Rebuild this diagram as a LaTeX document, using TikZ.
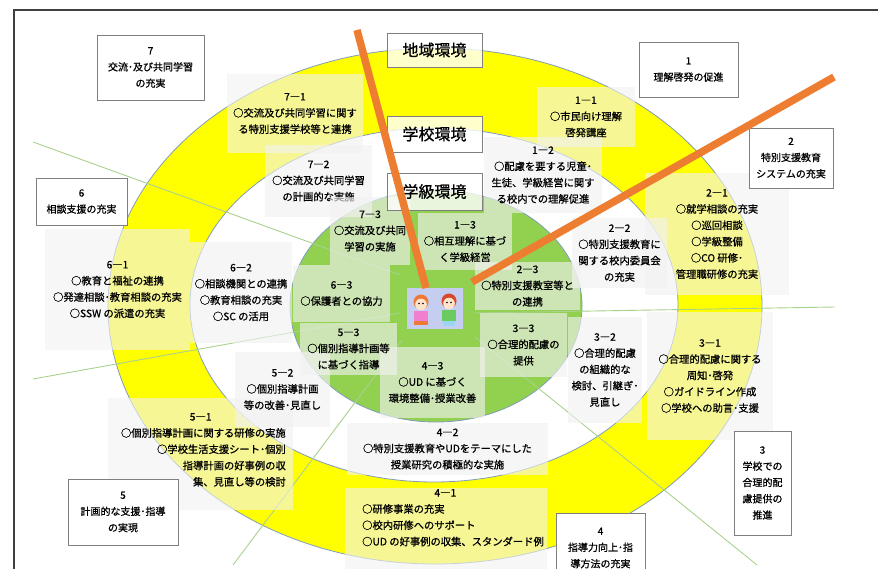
\documentclass[tikz,border=0pt]{standalone}
\usepackage{fontspec}
\newfontfamily\jp{Noto Sans CJK JP}[FakeBold=0.8]
\usetikzlibrary{positioning}
\definecolor{ringyellow}{HTML}{FFFF00}
\definecolor{ringgreen}{HTML}{92D050}
\definecolor{ringedge}{HTML}{7F9DBA}
\definecolor{divgreen}{HTML}{A9D18E}
\definecolor{orangebar}{HTML}{ED7D31}
\definecolor{boxgray}{HTML}{F2F2F2}
\definecolor{boxedge}{HTML}{7F7F7F}
\definecolor{framegray}{HTML}{404040}
\definecolor{kidsbg}{HTML}{C5CDF0}
\definecolor{hairorange}{HTML}{EE7A3A}
\definecolor{hairred}{HTML}{D9482B}
\definecolor{skin}{HTML}{FFE4CC}
\definecolor{shirtpink}{HTML}{F07FD0}
\definecolor{shirtgreen}{HTML}{6CCB5F}
\definecolor{pantsblue}{HTML}{9CD5F0}

\begin{document}
\begin{tikzpicture}[x=1pt,y=-1pt,
	numbox/.style={draw=boxedge,fill=white,line width=0.9,inner sep=0pt,align=center,font=\jp\fontsize{10}{16.3}\selectfont},
	subbox/.style={fill=boxgray,fill opacity=0.62,text opacity=1,inner sep=0pt,align=center,font=\jp\fontsize{10.3}{16.3}\selectfont},
	subtext/.style={inner sep=0pt,font=\jp\fontsize{10.3}{16.3}\selectfont},
	envbox/.style={draw=boxedge,fill=white,fill opacity=0.8,text opacity=1,line width=0.9,inner sep=0pt,minimum width=95,font=\jp\fontsize{16}{18}\selectfont},
	divline/.style={divgreen,line width=0.9},
	barline/.style={orangebar,line width=7.5}]
	\useasboundingbox (0,0) rectangle (878,569);
	\clip (0,0) rectangle (878,569);

	% rings
	\filldraw[fill=ringyellow,draw=ringedge,line width=0.8] (435,306) ellipse [x radius=327pt,y radius=258pt];
	\filldraw[fill=white,draw=ringedge,line width=0.8] (434,305) ellipse [x radius=244pt,y radius=177pt];
	\filldraw[fill=ringgreen,draw=ringedge,line width=0.8] (436,306) ellipse [x radius=146pt,y radius=116pt];

	% dividers
	\coordinate (d1a) at (33,142);  \coordinate (d1b) at (400,275);
	\coordinate (d2a) at (33,379);  \coordinate (d2b) at (400,313);
	\coordinate (d3a) at (233,565); \coordinate (d3b) at (402,340);
	\coordinate (d4a) at (757,565); \coordinate (d4b) at (475,337);
	\coordinate (d5a) at (835,307); \coordinate (d5b) at (473,313);
	\draw[divline] (d1a) -- (d1b);
	\draw[divline] (d2a) -- (d2b);
	\draw[divline] (d3a) -- (d3b);
	\draw[divline] (d4a) -- (d4b);
	\draw[divline] (d5a) -- (d5b);

	% 7
	\node[subbox,minimum width=136,minimum height=79] (s71) at (295,113.5) {7―1\\○交流及び共同学習に関す\\る特別支援学校等と連携};
	\node[subbox,minimum width=107,minimum height=72] (s72) at (318.5,181) {7―2\\○交流及び共同学習\\の計画的な実施};
	\node[subbox,minimum width=80,minimum height=68] (s73) at (370,231) {7―3\\○交流及び共同\\学習の実施};
	% 1
	\node[subbox,minimum width=98,minimum height=60] (s11) at (586,117) {1―1\\○市民向け理解\\啓発講座};
	\node[subbox,minimum width=118,minimum height=76] (s12) at (543,175) {1―2\\○配慮を要する児童･\\生徒、学級経営に関す\\る校内での理解促進};
	\node[subbox,minimum width=94,minimum height=57] (s13) at (465,241.5) {1―3\\○相互理解に基づ\\く学級経営};
	% 2
	\node[subbox,minimum width=144,minimum height=122] (s21) at (717,234) {2―1\\○就学相談の充実\\○巡回相談\\○学級整備\\○CO 研修･\\管理職研修の充実};
	\node[subbox,minimum width=95,minimum height=70] (s22) at (619.5,253) {2―2\\○特別支援教育に\\関する校内委員会\\の充実};
	\node[subbox,minimum width=105,minimum height=48] (s23) at (527.5,286) {2―3\\○特別支援教室等と\\の連携};
	% 3
	\node[subbox,minimum width=126,minimum height=128] (s31) at (710,376) {3―1\\○合理的配慮に関する\\周知･啓発\\○ガイドライン作成\\○学校への助言･支援};
	\node[subbox,minimum width=74,minimum height=106] (s32) at (605,370) {3―2\\○合理的配慮\\の組織的な\\検討、引継ぎ･\\見直し};
	\node[subbox,minimum width=87,minimum height=64] (s33) at (523.5,345) {3―3\\○合理的配慮の\\提供};
	% 4
	\node[subbox,minimum width=105,minimum height=71] (s43) at (432.5,382.5) {4―3\\○UD に基づく\\環境整備･授業改善};
	\node[subbox,minimum width=201,minimum height=52] (s42) at (447.5,449) {4―2\\○特別支援教育やUDをテーマにした\\授業研究の積極的な実施};
	\node[subbox,minimum width=202,minimum height=95,anchor=north] (s41) at (446,488) {};
	\node[subtext,anchor=north west,align=left] (s41t) at (362,489) {\makebox[94pt][r]{4―1}\\○研修事業の充実\\○校内研修へのサポート\\○UD の好事例の収集、スタンダード例};
	% 5
	\node[subbox,minimum width=185,minimum height=112] (s51) at (200.5,454) {};
	\node[subtext,anchor=north east,align=right] (s51t) at (286,413) {\makebox[96pt][l]{5―1}\\○個別指導計画に関する研修の実施\\○学校生活支援シート･個別\\指導計画の好事例の収\\集、見直し等の検討};
	\node[subbox,minimum width=95,minimum height=75] (s52) at (282.5,389.5) {5―2\\○個別指導計画\\等の改善･見直し};
	\node[subbox,minimum width=97,minimum height=52] (s53) at (348.5,349) {5―3\\○個別指導計画等\\に基づく指導};
	% 6
	\node[subbox,minimum width=145,minimum height=121] (s61) at (117.5,289.5) {6―1\\○教育と福祉の連携\\○発達相談･教育相談の充実\\○SSW の派遣の充実};
	\node[subbox,minimum width=102,minimum height=101] (s62) at (241,292.5) {6―2\\○相談機関との連携\\○教育相談の充実\\○SC の活用};
	\node[subbox,minimum width=97,minimum height=57] (s63) at (341.5,293.5) {6―3\\○保護者との協力};

	% environments
	\node[envbox,minimum height=34] (chiiki) at (434.5,50) {地域環境};
	\node[envbox,minimum height=36] (gakko) at (434.5,134) {学校環境};
	\node[envbox,minimum height=37] (gakkyu) at (434.5,191.5) {学級環境};

	% goals
	\node[numbox,minimum width=107,minimum height=65] (n7) at (150.5,67.5) {7\\交流･及び共同学習\\の充実};
	\node[numbox,minimum width=99,minimum height=55] (n1) at (688.5,69.5) {1\\理解啓発の促進};
	\node[numbox,minimum width=84,minimum height=60] (n2) at (791,158) {2\\特別支援教育\\システムの充実};
	\node[numbox,minimum width=91,minimum height=47] (n6) at (81.5,201.5) {6\\相談支援の充実};
	\node[numbox,minimum width=110,minimum height=66] (n5) at (123,512) {5\\計画的な支援･指導\\の実現};
	\node[numbox,minimum width=89,minimum height=70] (n4) at (600.5,548) {4\\指導力向上･指\\導方法の充実};
	\node[numbox,minimum width=57,minimum height=104] (n3) at (762.5,483) {3\\学校での\\合理的配\\慮提供の\\推進};

	% children
	\node[fill=kidsbg,minimum width=56,minimum height=41,inner sep=0pt] (kids) at (435,308.5) {};
	\fill[hairorange] (421,302) circle[radius=7.5pt];
	\fill[skin] (421,304.5) circle[radius=5.8pt];
	\fill[shirtpink] (414,311) rectangle (428,321);
	\fill[hairorange] (414,321) rectangle (428,325);
	\fill[hairred] (449,301) circle[radius=7.5pt];
	\fill[skin] (449,303.5) circle[radius=5.8pt];
	\fill[shirtgreen] (442,310) rectangle (456,321);
	\fill[pantsblue] (443,321) rectangle (455,326);
	\fill (419,303.5) circle[radius=0.8pt] (423,303.5) circle[radius=0.8pt];
	\fill (447,302.5) circle[radius=0.8pt] (451,302.5) circle[radius=0.8pt];

	% bars
	\coordinate (b1a) at (357,30);  \coordinate (b1b) at (426,288);
	\coordinate (b2a) at (834,77);  \coordinate (b2b) at (472,282);
	\draw[barline] (b1a) -- (b1b);
	\draw[barline] (b2a) -- (b2b);

	\draw[framegray,line width=1.4] (14,569) -- (14,10) -- (878,10);
\end{tikzpicture}
\end{document}
